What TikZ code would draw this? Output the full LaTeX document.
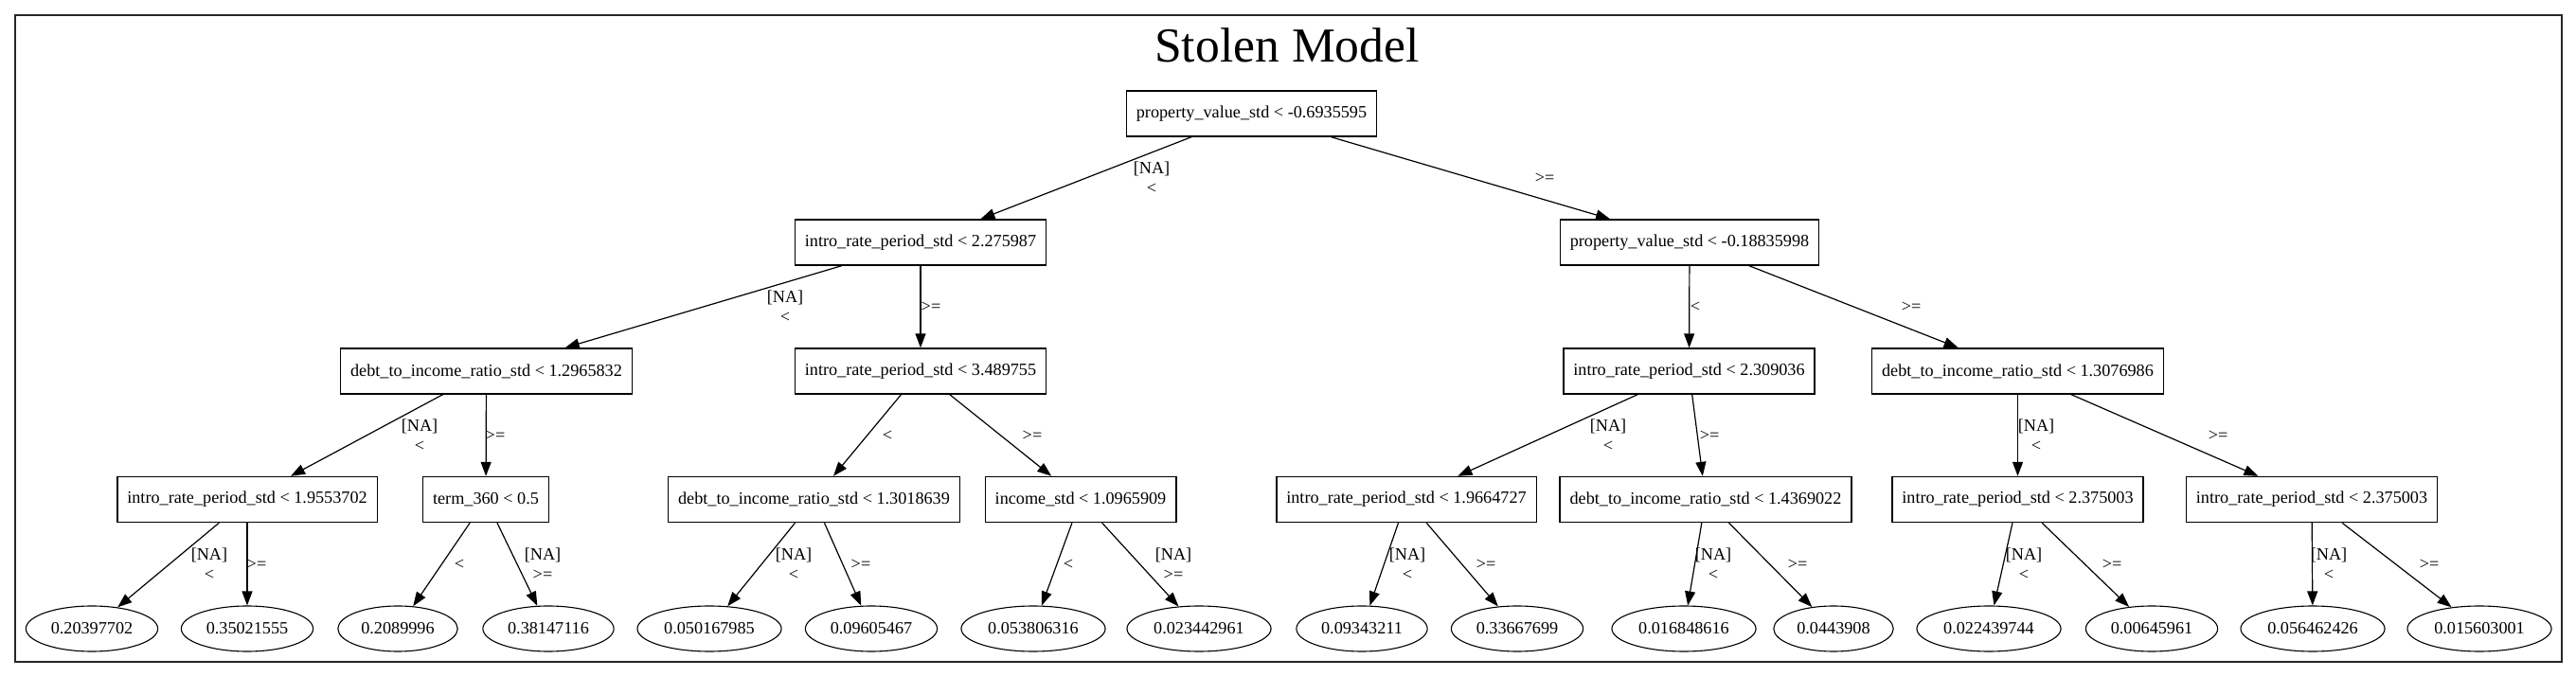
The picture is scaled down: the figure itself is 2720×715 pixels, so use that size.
\documentclass[tikz,border=0pt]{standalone}
\usepackage{fontspec}
\setmainfont{Liberation Serif}
\usetikzlibrary{arrows.meta,shapes.geometric}

\begin{document}
\begin{tikzpicture}[x=0.5pt, y=-0.5pt,
    split/.style={draw, line width=0.7pt, inner xsep=5.25pt, inner ysep=0pt,
      minimum height=24pt, font=\fontsize{9.1}{10.5}\selectfont},
    leaf/.style={draw, ellipse, line width=0.55pt, inner xsep=3pt, inner ysep=0pt,
      minimum height=24pt, font=\fontsize{9.1}{10.5}\selectfont},
    branch/.style={-{Triangle[length=7.5pt,width=5.5pt]}, line width=0.6pt},
    cond/.style={align=center, inner sep=0pt, font=\fontsize{9.1}{10.5}\selectfont}]
  \useasboundingbox (0,0) rectangle (2720,715);
  \draw[line width=0.8pt, black!85] (16,16) rectangle (2705,699);
  \node (title) at (1359,48) {\fontsize{25.8}{30}\selectfont Stolen Model};

  % splits
  \node[split] (root) at (1321.5,120) {property\_value\_std < -0.6935595};
  \node[split] (L) at (972,256) {intro\_rate\_period\_std < 2.275987};
  \node[split] (R) at (1784,256) {property\_value\_std < -0.18835998};
  \node[split] (LL) at (513.5,392) {debt\_to\_income\_ratio\_std < 1.2965832};
  \node[split] (LR) at (972,392) {intro\_rate\_period\_std < 3.489755};
  \node[split] (RL) at (1783.5,392) {intro\_rate\_period\_std < 2.309036};
  \node[split] (RR) at (2130.5,392) {debt\_to\_income\_ratio\_std < 1.3076986};
  \node[split] (LLL) at (261,527.5) {intro\_rate\_period\_std < 1.9553702};
  \node[split] (LLR) at (513,527.5) {term\_360 < 0.5};
  \node[split] (LRL) at (859.5,527.5) {debt\_to\_income\_ratio\_std < 1.3018639};
  \node[split] (LRR) at (1141,527.5) {income\_std < 1.0965909};
  \node[split] (RLL) at (1485,527.5) {intro\_rate\_period\_std < 1.9664727};
  \node[split] (RLR) at (1801,527.5) {debt\_to\_income\_ratio\_std < 1.4369022};
  \node[split] (RRL) at (2130.5,527.5) {intro\_rate\_period\_std < 2.375003};
  \node[split] (RRR) at (2441,527.5) {intro\_rate\_period\_std < 2.375003};

  % leaves
  \node[leaf] (LLLL) at (97,664) {0.20397702};
  \node[leaf] (LLLR) at (261,664) {0.35021555};
  \node[leaf] (LLRL) at (420,664) {0.2089996};
  \node[leaf] (LLRR) at (579,664) {0.38147116};
  \node[leaf] (LRLL) at (749,664) {0.050167985};
  \node[leaf] (LRLR) at (920,664) {0.09605467};
  \node[leaf] (LRRL) at (1091,664) {0.053806316};
  \node[leaf] (LRRR) at (1266,664) {0.023442961};
  \node[leaf] (RLLL) at (1438,664) {0.09343211};
  \node[leaf] (RLLR) at (1602,664) {0.33667699};
  \node[leaf] (RLRL) at (1778,664) {0.016848616};
  \node[leaf] (RLRR) at (1936,664) {0.0443908};
  \node[leaf] (RRLL) at (2100,664) {0.022439744};
  \node[leaf] (RRLR) at (2272,664) {0.00645961};
  \node[leaf] (RRRL) at (2442,664) {0.056462426};
  \node[leaf] (RRRR) at (2618,664) {0.015603001};

  % branches
  \foreach \a/\b in {root/L,root/R,L/LL,L/LR,R/RL,R/RR,
      LL/LLL,LL/LLR,LR/LRL,LR/LRR,RL/RLL,RL/RLR,RR/RRL,RR/RRR,
      LLL/LLLL,LLL/LLLR,LLR/LLRL,LLR/LLRR,LRL/LRLL,LRL/LRLR,LRR/LRRL,LRR/LRRR,
      RLL/RLLL,RLL/RLLR,RLR/RLRL,RLR/RLRR,RRL/RRLL,RRL/RRLR,RRR/RRRL,RRR/RRRR}
    \draw[branch] (\a) -- (\b);

  % branch conditions
  \node[cond] (c-L) at (1216,188) {[NA]\\<};
  \node[cond] (c-R) at (1631,188) {>=};
  \node[cond] (c-LL) at (829,324) {[NA]\\<};
  \node[cond] (c-LR) at (983,324) {>=};
  \node[cond] (c-RL) at (1790,324) {<};
  \node[cond] (c-RR) at (2018,324) {>=};
  \node[cond] (c-LLL) at (443,460) {[NA]\\<};
  \node[cond] (c-LLR) at (523,460) {>=};
  \node[cond] (c-LRL) at (937,460) {<};
  \node[cond] (c-LRR) at (1090,460) {>=};
  \node[cond] (c-RLL) at (1698,460) {[NA]\\<};
  \node[cond] (c-RLR) at (1805,460) {>=};
  \node[cond] (c-RRL) at (2150,460) {[NA]\\<};
  \node[cond] (c-RRR) at (2342,460) {>=};
  \node[cond] (c-LLLL) at (221,596) {[NA]\\<};
  \node[cond] (c-LLLR) at (271,596) {>=};
  \node[cond] (c-LLRL) at (485,596) {<};
  \node[cond] (c-LLRR) at (573,596) {[NA]\\>=};
  \node[cond] (c-LRLL) at (838,596) {[NA]\\<};
  \node[cond] (c-LRLR) at (909,596) {>=};
  \node[cond] (c-LRRL) at (1128,596) {<};
  \node[cond] (c-LRRR) at (1239,596) {[NA]\\>=};
  \node[cond] (c-RLLL) at (1486,596) {[NA]\\<};
  \node[cond] (c-RLLR) at (1569,596) {>=};
  \node[cond] (c-RLRL) at (1809,596) {[NA]\\<};
  \node[cond] (c-RLRR) at (1898,596) {>=};
  \node[cond] (c-RRLL) at (2137,596) {[NA]\\<};
  \node[cond] (c-RRLR) at (2230,596) {>=};
  \node[cond] (c-RRRL) at (2459,596) {[NA]\\<};
  \node[cond] (c-RRRR) at (2565,596) {>=};
\end{tikzpicture}
\end{document}
